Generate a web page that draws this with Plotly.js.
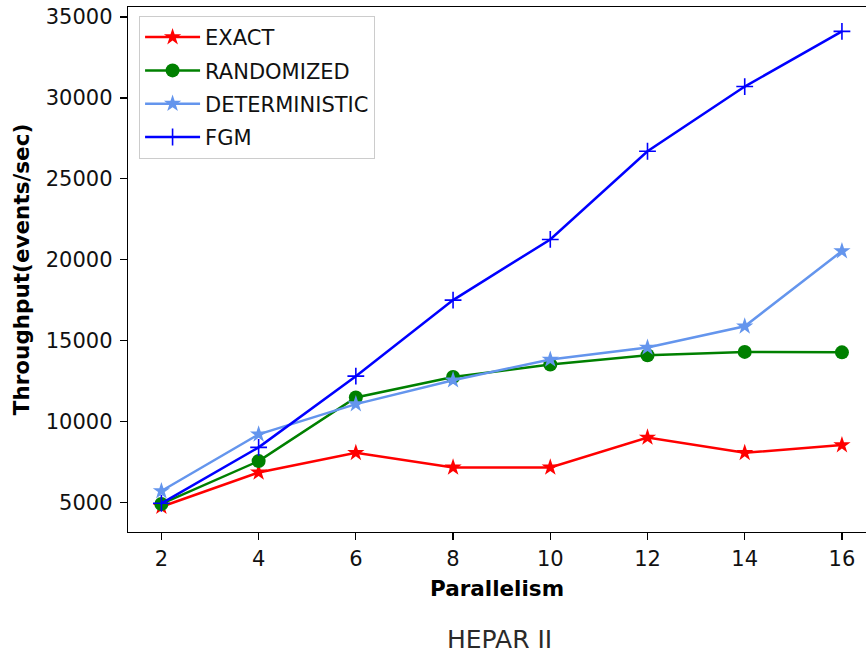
<!DOCTYPE html>
<html>
<head>
<meta charset="utf-8">
<script src="https://cdn.plot.ly/plotly-3.0.1.min.js"></script>
<style>html,body{margin:0;padding:0;overflow:hidden;background:#fff}</style>
</head>
<body>
<div id="chart" style="width:866px;height:657px"></div>
<script>
const parallelism = [2, 4, 6, 8, 10, 12, 14, 16];
const exact = [4730, 6850, 8060, 7160, 7160, 9010, 8060, 8540];
const randomized = [4900, 7550, 11480, 12750, 13520, 14090, 14300, 14270];
const deterministic = [5700, 9200, 11070, 12550, 13830, 14570, 15880, 20530];
const fgm = [4940, 8400, 12800, 17500, 21250, 26700, 30700, 34110];
const seriesNames = ['EXACT', 'RANDOMIZED', 'DETERMINISTIC', 'FGM'];
const xTicks = [2, 4, 6, 8, 10, 12, 14, 16];
const yTicks = [5000, 10000, 15000, 20000, 25000, 30000, 35000];

const font = 'DejaVu Sans, sans-serif';
const traces = [
  {x: parallelism, y: exact, name: seriesNames[0], mode: 'lines+markers',
   line: {color: 'red', width: 2.5}, marker: {symbol: 'star', size: 13, color: 'red'}},
  {x: parallelism, y: randomized, name: seriesNames[1], mode: 'lines+markers',
   line: {color: 'green', width: 2.5}, marker: {symbol: 'circle', size: 14, color: 'green'}},
  {x: parallelism, y: deterministic, name: seriesNames[2], mode: 'lines+markers',
   line: {color: '#6495ED', width: 2.5}, marker: {symbol: 'star', size: 13, color: '#6495ED'}},
  {x: parallelism, y: fgm, name: seriesNames[3], mode: 'lines+markers',
   line: {color: 'blue', width: 2.5}, marker: {symbol: 'cross-thin', size: 12, color: 'blue', line: {color: 'blue', width: 1.6}}}
];
traces.forEach((t, i) => { t.legendgroup = 'g' + i; });

const layout = {
  width: 866, height: 657,
  margin: {l: 128, r: 0, t: 7, b: 125},
  paper_bgcolor: '#fff', plot_bgcolor: '#fff',
  font: {family: font, size: 21, color: '#111'},
  showlegend: true,
  legend: {
    x: 0.015, y: 0.983, xanchor: 'left', yanchor: 'top',
    bgcolor: 'rgba(255,255,255,0.8)', bordercolor: '#cccccc', borderwidth: 1,
    font: {family: font, size: 21, color: '#111'},
    traceorder: 'grouped', tracegroupgap: 3, itemwidth: 55
  },
  xaxis: {
    range: [1.313, 16.495], tickvals: xTicks, ticktext: xTicks.map(String),
    showgrid: false, zeroline: false, showline: true, linecolor: '#000', linewidth: 1.3,
    mirror: true, ticks: 'outside', ticklen: 7, tickwidth: 1.3, tickcolor: '#000',
    tickfont: {family: font, size: 21, color: '#111'},
    title: {text: '<b>Parallelism</b>', font: {family: font, size: 21.5, color: '#000'}, standoff: 11}
  },
  yaxis: {
    range: [3167, 35617], tickvals: yTicks, ticktext: yTicks.map(String),
    showgrid: false, zeroline: false, showline: true, linecolor: '#000', linewidth: 1.3,
    ticks: 'outside', ticklen: 7, tickwidth: 1.3, tickcolor: '#000', ticklabelstandoff: 3,
    tickfont: {family: font, size: 21, color: '#111'},
    title: {text: '<b>Throughput(events/sec)</b>', font: {family: font, size: 21.5, color: '#000'}, standoff: 10}
  },
  annotations: [{
    text: 'HEPAR II', xref: 'paper', yref: 'paper', x: 0.504, y: -0.205,
    xanchor: 'center', yanchor: 'middle', showarrow: false,
    font: {family: font, size: 25, color: '#2a2a2a'}
  }]
};

Plotly.newPlot('chart', traces, layout, {displayModeBar: false, staticPlot: true});
</script>
</body>
</html>
